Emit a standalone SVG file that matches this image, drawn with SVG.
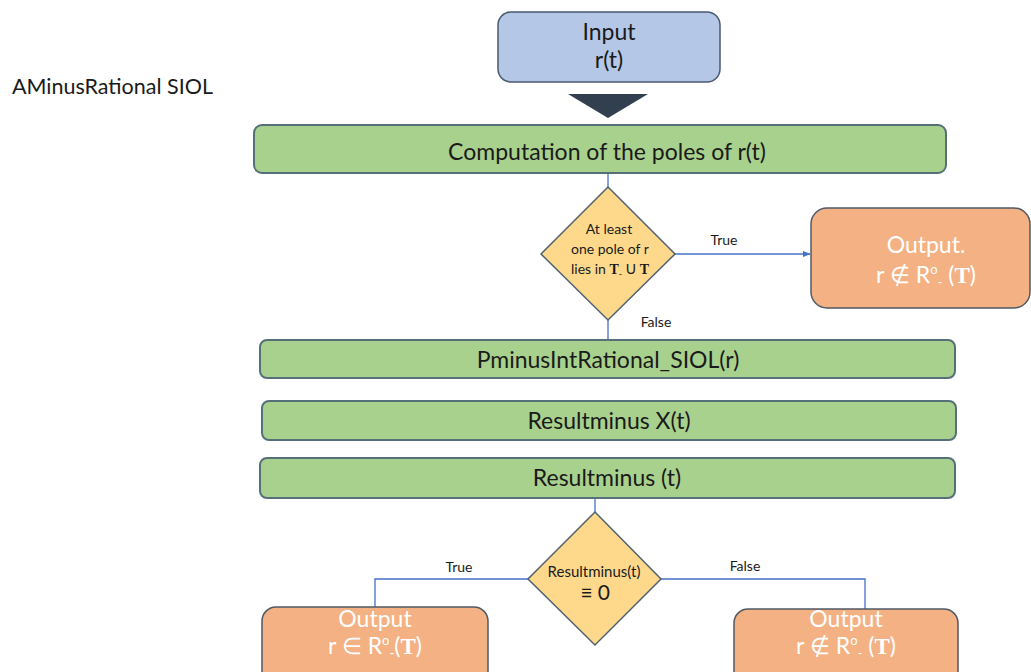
<svg xmlns="http://www.w3.org/2000/svg" width="1031" height="672" viewBox="0 0 1031 672">
  <defs>
    <marker id="arrow" viewBox="0 0 10 10" refX="9" refY="5" markerWidth="6" markerHeight="6" orient="auto">
      <path d="M0,1 L10,5 L0,9 z" fill="#4472c4"/>
    </marker>
    <style>
      text { font-family: Lato, "Open Sans", "Liberation Sans", sans-serif; }
      .start { fill: #b4c7e7; stroke: #4a5a70; stroke-width: 1.5; }
      .step { fill: #a9d18e; stroke: #56707a; stroke-width: 2; }
      .out { fill: #f4b183; stroke: #4f5a66; stroke-width: 1.5; }
      .dec { fill: #fed98c; stroke: #4f6270; stroke-width: 1.5; }
      .link { fill: none; stroke: #4472c4; stroke-width: 1.3; }
      .lbl { font-size: 23px; fill: #1a1a1a; text-anchor: middle; }
      .small { font-size: 14px; fill: #1a1a1a; text-anchor: middle; }
      .edge { font-size: 14px; fill: #1a1a1a; text-anchor: middle; }
      .outtxt { font-size: 23px; fill: #ffffff; text-anchor: middle; }
      .mathT { font-family: "Liberation Serif", serif; font-weight: bold; }
    </style>
  </defs>

  <text x="12" y="94" font-size="21.5" fill="#1a1a1a">AMinusRational SIOL</text>

  <g id="connectors">
    <line class="link" x1="608" y1="173" x2="608" y2="187"/>
    <line class="link" x1="675" y1="254" x2="810" y2="254" marker-end="url(#arrow)"/>
    <line class="link" x1="608" y1="320" x2="608" y2="340"/>
    <line class="link" x1="595" y1="498" x2="595" y2="512"/>
    <polyline class="link" points="528,579 375,579 375,607"/>
    <polyline class="link" points="661,579 865,579 865,609"/>
    <text class="edge" x="724" y="245">True</text>
    <text class="edge" x="656" y="327">False</text>
    <text class="edge" x="459" y="572">True</text>
    <text class="edge" x="745" y="571">False</text>
  </g>

  <g id="input">
    <rect class="start" x="498" y="12" width="222" height="70" rx="13"/>
    <text class="lbl" x="609" y="40">Input</text>
    <text class="lbl" x="609" y="68">r(t)</text>
    <polygon points="568,94 648,94 608,118" fill="#323f4f"/>
  </g>

  <g id="poles">
    <rect class="step" x="254" y="125" width="692" height="48" rx="8"/>
    <text class="lbl" x="607" y="160">Computation of the poles of r(t)</text>
  </g>

  <g id="pole-test">
    <polygon class="dec" points="608,187 675,254 608,320 541,254"/>
    <text class="small" x="609" y="234">At least</text>
    <text class="small" x="610" y="254">one pole of r</text>
    <text class="small" x="610" y="274">lies in <tspan class="mathT">T</tspan><tspan font-size="9" dy="3">-</tspan><tspan dy="-3"> U </tspan><tspan class="mathT">T</tspan></text>
  </g>

  <g id="output-not-in">
    <rect class="out" x="811" y="208" width="219" height="100" rx="16"/>
    <text class="outtxt" x="926" y="253">Output.</text>
    <text class="outtxt" x="926" y="283">r ∉ R<tspan font-size="13" dy="-9">o</tspan><tspan font-size="13" dy="13">-</tspan><tspan dy="-4"> (</tspan><tspan class="mathT">T</tspan>)</text>
  </g>

  <g id="pminus">
    <rect class="step" x="260" y="340" width="695" height="38" rx="7"/>
    <text class="lbl" x="608" y="368">PminusIntRational_SIOL(r)</text>
  </g>

  <g id="resultminus-x">
    <rect class="step" x="262" y="401" width="694" height="39" rx="7"/>
    <text class="lbl" x="609" y="429">Resultminus X(t)</text>
  </g>

  <g id="resultminus">
    <rect class="step" x="260" y="458" width="695" height="40" rx="7"/>
    <text class="lbl" x="607" y="486">Resultminus (t)</text>
  </g>

  <g id="zero-test">
    <polygon class="dec" points="595,512 661,579 595,645 528,579"/>
    <text x="594" y="577" font-size="15" fill="#1a1a1a" text-anchor="middle">Resultminus(t)</text>
    <text x="595" y="600" font-size="21" fill="#1a1a1a" text-anchor="middle">≡ 0</text>
  </g>

  <g id="output-in">
    <rect class="out" x="262" y="607" width="226" height="80" rx="14"/>
    <text class="outtxt" x="375" y="627">Output</text>
    <text class="outtxt" x="375" y="654">r ∈ R<tspan font-size="13" dy="-9">o</tspan><tspan font-size="13" dy="13">-</tspan><tspan dy="-4">(</tspan><tspan class="mathT">T</tspan>)</text>
  </g>

  <g id="output-not-in-2">
    <rect class="out" x="734" y="609" width="224" height="80" rx="14"/>
    <text class="outtxt" x="846" y="627">Output</text>
    <text class="outtxt" x="846" y="654">r ∉ R<tspan font-size="13" dy="-9">o</tspan><tspan font-size="13" dy="13">-</tspan><tspan dy="-4"> (</tspan><tspan class="mathT">T</tspan>)</text>
  </g>
</svg>
